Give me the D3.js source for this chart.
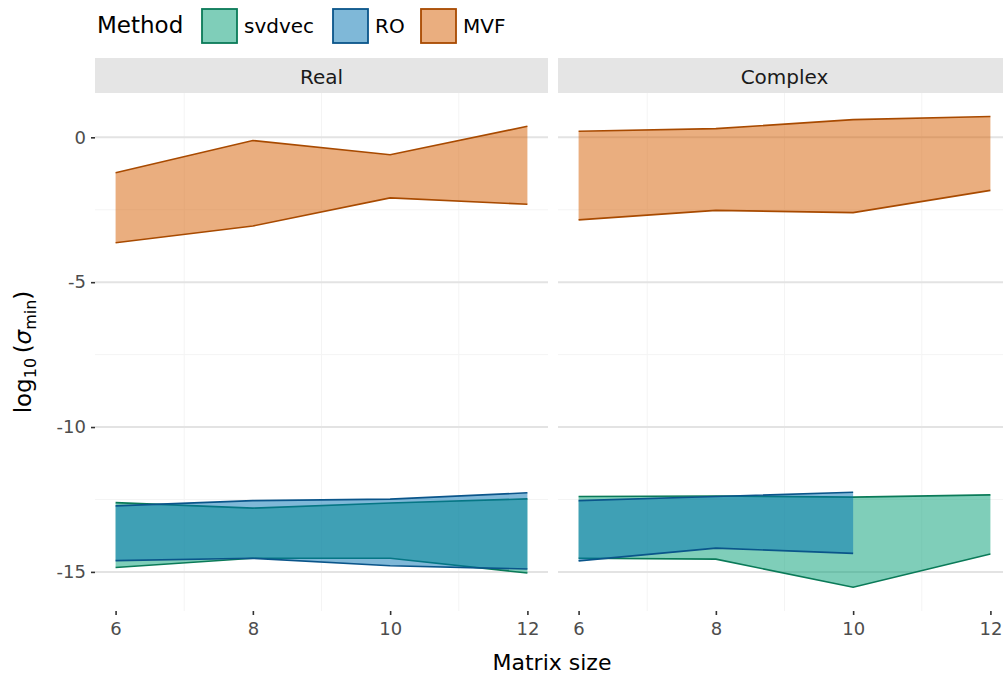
<!DOCTYPE html>
<html>
<head>
<meta charset="utf-8">
<script src="https://cdn.jsdelivr.net/npm/d3@7"></script>
<style>
  body { margin: 0; background: #fff; }
  svg { display: block; font-family: "DejaVu Sans", sans-serif; }
</style>
</head>
<body>
<svg id="chart" width="1003" height="674"></svg>
<script>
// ---- data ----
const matrixSizes = [6, 8, 10, 12];
const facets = ["Real", "Complex"];
const methods = ["svdvec", "RO", "MVF"];
const fillColors = ["#009E73", "#0072B2", "#D55E00"];
const lineColors = ["#0a7a58", "#0a558a", "#a84a00"];

// Real facet (log10 sigma_min ranges)
const realSvdvecLow  = [-14.85, -14.53, -14.53, -15.04];
const realSvdvecHigh = [-12.61, -12.80, -12.62, -12.48];
const realROLow      = [-14.61, -14.53, -14.79, -14.90];
const realROHigh     = [-12.72, -12.54, -12.49, -12.27];
const realMVFLow     = [-3.64, -3.06, -2.09, -2.31];
const realMVFHigh    = [-1.22, -0.11, -0.60, 0.38];

// Complex facet
const cplxSvdvecLow  = [-14.53, -14.56, -15.53, -14.38];
const cplxSvdvecHigh = [-12.40, -12.38, -12.42, -12.34];
const cplxROLow      = [-14.62, -14.18, -14.36];
const cplxROHigh     = [-12.54, -12.40, -12.25];
const cplxMVFLow     = [-2.85, -2.52, -2.60, -1.83];
const cplxMVFHigh    = [0.21, 0.30, 0.61, 0.72];

const yTicks = [0, -5, -10, -15];
const yTickLabels = ["0", "-5", "-10", "-15"];
const xTicks = [6, 8, 10, 12];

function rows(lo, hi) { return lo.map((v, i) => ({ x: matrixSizes[i], lo: v, hi: hi[i] })); }
const facetData = {
  Real: [rows(realSvdvecLow, realSvdvecHigh), rows(realROLow, realROHigh), rows(realMVFLow, realMVFHigh)],
  Complex: [rows(cplxSvdvecLow, cplxSvdvecHigh), rows(cplxROLow, cplxROHigh), rows(cplxMVFLow, cplxMVFHigh)]
};

// ---- layout ----
const svg = d3.select("#chart");
const panelTop = 93, panelBottom = 611, stripTop = 58;
const panelW = 453;
const panelLefts = [95, 558];

const y = d3.scaleLinear().domain([-16.35, 1.53]).range([panelBottom, panelTop]);

facets.forEach((f, fi) => {
  const x0 = panelLefts[fi];
  const x = d3.scaleLinear().domain([5.7, 12.3]).range([x0, x0 + panelW]);
  const g = svg.append("g");

  // strip
  g.append("rect").attr("x", x0).attr("y", stripTop).attr("width", panelW)
    .attr("height", panelTop - stripTop).attr("fill", "#e5e5e5");
  g.append("text").attr("x", x0 + panelW / 2).attr("y", (stripTop + panelTop) / 2 + 1)
    .attr("text-anchor", "middle").attr("dominant-baseline", "central")
    .attr("font-size", 20).attr("fill", "#1a1a1a").text(f);

  // minor grid
  const yMinor = [-2.5, -7.5, -12.5];
  g.selectAll(".ymin").data(yMinor).enter().append("line")
    .attr("x1", x0).attr("x2", x0 + panelW)
    .attr("y1", d => y(d)).attr("y2", d => y(d))
    .attr("stroke", "#f4f4f4").attr("stroke-width", 1);
  const xMinor = [7, 9, 11];
  g.selectAll(".xmin").data(xMinor).enter().append("line")
    .attr("y1", panelTop).attr("y2", panelBottom)
    .attr("x1", d => x(d)).attr("x2", d => x(d))
    .attr("stroke", "#f4f4f4").attr("stroke-width", 1);
  // major grid (y)
  g.selectAll(".ymaj").data(yTicks).enter().append("line")
    .attr("x1", x0).attr("x2", x0 + panelW)
    .attr("y1", d => y(d)).attr("y2", d => y(d))
    .attr("stroke", "#e3e3e3").attr("stroke-width", 2);

  // ribbons
  facetData[f].forEach((data, mi) => {
    const area = d3.area().x(d => x(d.x)).y0(d => y(d.lo)).y1(d => y(d.hi));
    g.append("path").datum(data).attr("d", area)
      .attr("fill", fillColors[mi]).attr("fill-opacity", 0.5);
    ["lo", "hi"].forEach(k => {
      const line = d3.line().x(d => x(d.x)).y(d => y(d[k]));
      g.append("path").datum(data).attr("d", line)
        .attr("fill", "none").attr("stroke", lineColors[mi]).attr("stroke-width", 1.6);
    });
  });

  // x axis ticks + labels
  const xa = g.append("g").attr("transform", `translate(0,${panelBottom})`)
    .call(d3.axisBottom(x).tickValues(xTicks).tickSize(4).tickPadding(7).tickFormat(d3.format("d")));
  xa.select(".domain").remove();
  xa.selectAll("line").attr("stroke", "#333").attr("stroke-width", 1.6);
  xa.selectAll("text").attr("font-size", 18).attr("fill", "#4d4d4d")
    .attr("font-family", "DejaVu Sans, sans-serif");

  if (fi === 0) {
    const ya = g.append("g").attr("transform", `translate(${x0},0)`)
      .call(d3.axisLeft(y).tickValues(yTicks).tickSize(4).tickPadding(5)
        .tickFormat((d, i) => yTickLabels[i]));
    ya.select(".domain").remove();
    ya.selectAll("line").attr("stroke", "#333").attr("stroke-width", 1.6);
    ya.selectAll("text").attr("font-size", 18).attr("fill", "#4d4d4d")
      .attr("font-family", "DejaVu Sans, sans-serif");
  }
});

// axis titles
svg.append("text").attr("x", 552).attr("y", 670)
  .attr("text-anchor", "middle").attr("font-size", 22).attr("fill", "#000").text("Matrix size");

const yt = svg.append("text").attr("transform", `translate(31,${(panelTop + panelBottom) / 2}) rotate(-90)`)
  .attr("text-anchor", "middle").attr("font-size", 23).attr("fill", "#000");
yt.append("tspan").text("log");
yt.append("tspan").attr("font-size", 16).attr("dy", 5).text("10");
yt.append("tspan").attr("dy", -5).text("\u2009(");
yt.append("tspan").attr("font-style", "italic").text("\u03c3");
yt.append("tspan").attr("font-size", 16).attr("dy", 5).text("min");
yt.append("tspan").attr("dy", -5).text(")");

// legend
const leg = svg.append("g");
leg.append("text").attr("x", 97).attr("y", 25).attr("dominant-baseline", "central")
  .attr("font-size", 23).attr("fill", "#000").text("Method");
const keyX = [202, 333, 421];
methods.forEach((m, i) => {
  leg.append("rect").attr("x", keyX[i]).attr("y", 9).attr("width", 35).attr("height", 34)
    .attr("fill", "#fff");
  leg.append("rect").attr("x", keyX[i]).attr("y", 9).attr("width", 35).attr("height", 34)
    .attr("fill", fillColors[i]).attr("fill-opacity", 0.5)
    .attr("stroke", lineColors[i]).attr("stroke-width", 1.8);
  leg.append("text").attr("x", keyX[i] + 42).attr("y", 26).attr("dominant-baseline", "central")
    .attr("font-size", 20).attr("fill", "#000").text(m);
});
</script>
</body>
</html>
